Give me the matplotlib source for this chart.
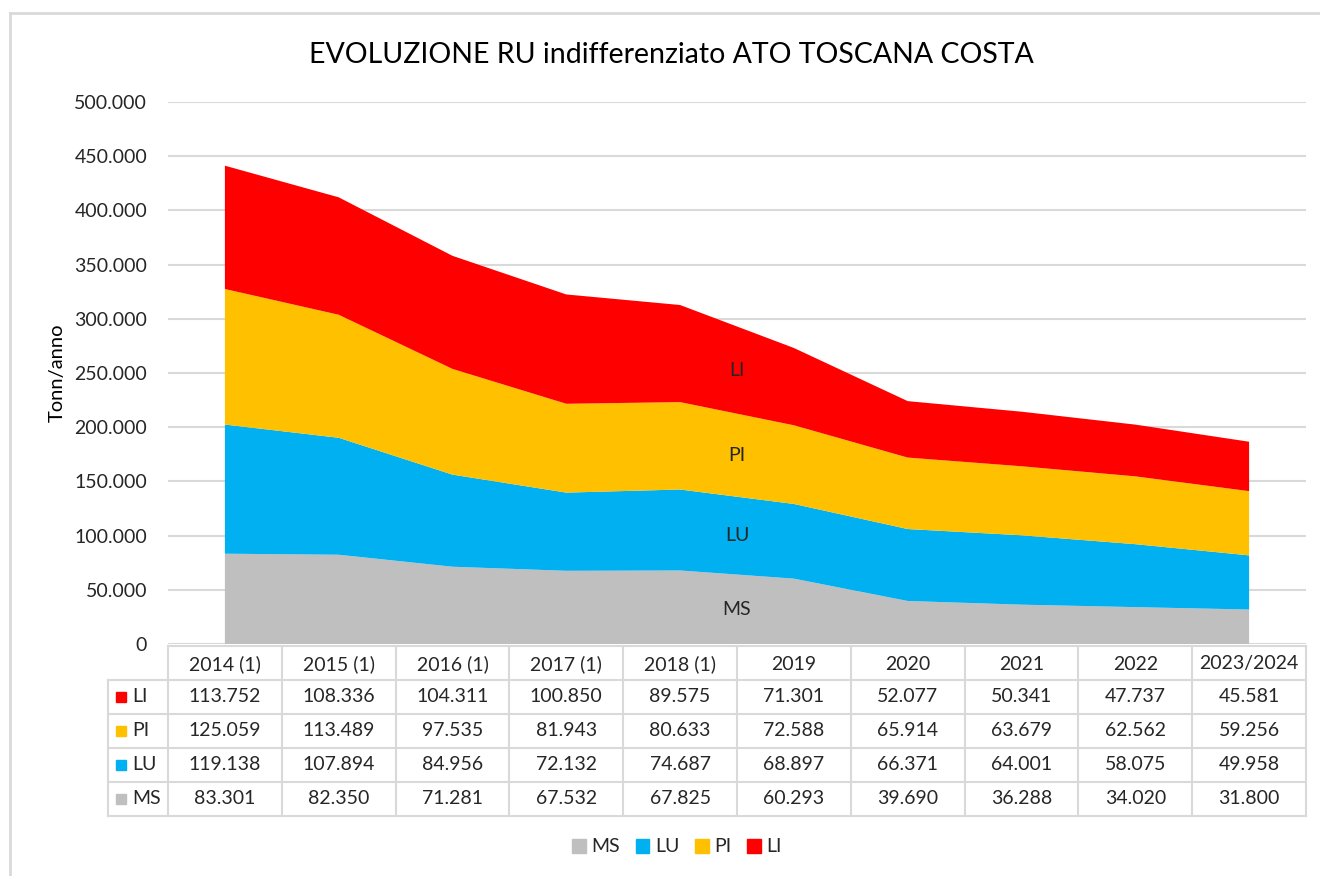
import matplotlib
matplotlib.use("Agg")
import matplotlib.pyplot as plt
import numpy as np
from matplotlib.patches import Patch
from matplotlib.lines import Line2D

plt.rcParams['font.family'] = ['Lato', 'DejaVu Sans']

# data
years = ["2014 (1)", "2015 (1)", "2016 (1)", "2017 (1)", "2018 (1)",
         "2019", "2020", "2021", "2022", "2023/2024"]
MS = [83301, 82350, 71281, 67532, 67825, 60293, 39690, 36288, 34020, 31800]
LU = [119138, 107894, 84956, 72132, 74687, 68897, 66371, 64001, 58075, 49958]
PI = [125059, 113489, 97535, 81943, 80633, 72588, 65914, 63679, 62562, 59256]
LI = [113752, 108336, 104311, 100850, 89575, 71301, 52077, 50341, 47737, 45581]
names = ["MS", "LU", "PI", "LI"]
colors = {"MS": "#BFBFBF", "LU": "#00B0F0", "PI": "#FFC000", "LI": "#FF0000"}
series = {"MS": MS, "LU": LU, "PI": PI, "LI": LI}

W, H = 1320, 876
fig = plt.figure(figsize=(W / 100, H / 100), dpi=100)
grid_c = "#D9D9D9"
txt_c = "#262626"
fs = 14

def fx(px):
    return px / W

def fy(py):
    return 1 - py / H

# outer frame (only left/top visible in the picture)
fig.add_artist(Line2D([fx(10), fx(10)], [fy(13), 0], color=grid_c, lw=2))
fig.add_artist(Line2D([fx(10), 1], [fy(13), fy(13)], color=grid_c, lw=2))

L, R, T, B = 168, 1306, 102, 644
ax = fig.add_axes([fx(L), fy(B), fx(R - L), fy(T) - fy(B)])
x = np.arange(len(years))
ax.stackplot(x, [series[n] for n in names], colors=[colors[n] for n in names],
             lw=0, zorder=2)
ax.set_xlim(-0.5, len(years) - 0.5)
ax.set_ylim(0, 500000)
ax.set_yticks(np.arange(0, 500001, 50000))
ax.set_yticklabels(["0" if v == 0 else f"{v:,}".replace(",", ".")
                    for v in range(0, 500001, 50000)], fontsize=fs, color=txt_c)
ax.tick_params(axis="y", length=0, pad=15)
ax.set_xticks([])
ax.grid(axis="y", color=grid_c, lw=1.5, zorder=0)
for s in ax.spines.values():
    s.set_visible(False)
ax.set_ylabel("Tonn/anno", fontsize=14.5, color="black")
ax.yaxis.set_label_coords((66 - L) / (R - L), 0.5)

# labels in the areas, between 2018 and 2019
xm = 4.5
cum = np.zeros(len(years))
for n in names:
    v = np.array(series[n], dtype=float)
    lo = np.interp(xm, x, cum)
    hi = np.interp(xm, x, cum + v)
    ax.text(xm, (lo + hi) / 2, n, ha="center", va="center", fontsize=fs, color=txt_c, zorder=3)
    cum = cum + v

fig.text(fx(671), fy(55), "EVOLUZIONE RU indifferenziato ATO TOSCANA COSTA",
         ha="center", va="center", fontsize=20.5, color="black")

# data table
col_w = (R - L) / len(years)
row_h = 34
top = 646
fig.add_artist(Line2D([fx(L), fx(R)], [fy(top), fy(top)], color=grid_c, lw=1.5))
for i in range(5):
    yy = top + row_h * (i + 1)
    fig.add_artist(Line2D([fx(108), fx(R)], [fy(yy), fy(yy)], color=grid_c, lw=1.5))
for j in range(len(years) + 1):
    xx = L + col_w * j
    fig.add_artist(Line2D([fx(xx), fx(xx)], [fy(top), fy(top + 5 * row_h)], color=grid_c, lw=1.5))
fig.add_artist(Line2D([fx(108), fx(108)], [fy(top + row_h), fy(top + 5 * row_h)], color=grid_c, lw=1.5))

for j, yl in enumerate(years):
    fig.text(fx(L + col_w * (j + 0.5)), fy(top + row_h / 2 + 1), yl,
             ha="center", va="center", fontsize=fs, color=txt_c)
for i, n in enumerate(["LI", "PI", "LU", "MS"]):
    yc = top + row_h * (i + 1.5)
    fig.patches.append(plt.Rectangle((fx(116), fy(yc + 5)), fx(10), fy(yc - 5) - fy(yc + 5),
                                     transform=fig.transFigure, color=colors[n]))
    fig.text(fx(132), fy(yc), n, ha="left", va="center", fontsize=fs, color=txt_c)
    for j, v in enumerate(series[n]):
        fig.text(fx(L + col_w * (j + 0.5)), fy(yc), f"{v:,}".replace(",", "."),
                 ha="center", va="center", fontsize=fs, color=txt_c)

handles = [Patch(color=colors[n], label=n) for n in names]
fig.legend(handles=handles, loc="center", bbox_to_anchor=(fx(677), fy(847)), ncol=4,
           frameon=False, fontsize=fs, handlelength=0.7, handleheight=0.7,
           handletextpad=0.3, columnspacing=0.8, labelcolor=txt_c)

fig.savefig("out.png", dpi=100)
